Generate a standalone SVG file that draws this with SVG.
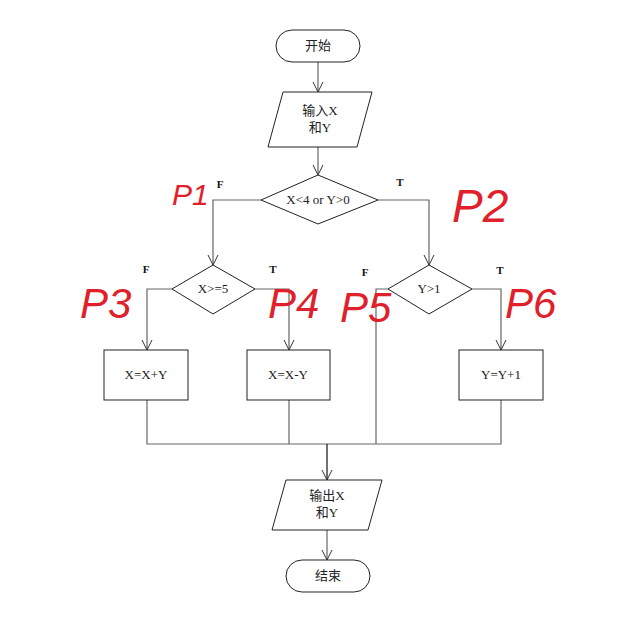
<svg xmlns="http://www.w3.org/2000/svg" width="621" height="630" viewBox="0 0 621 630">
<defs>
<marker id="ar" markerWidth="12" markerHeight="12" refX="11" refY="6" orient="auto" markerUnits="userSpaceOnUse" viewBox="0 0 12 12"><path d="M1,1 L11,6 L1,11" fill="none" stroke="#333" stroke-width="1"/></marker>
<style>
.s{fill:#fff;stroke:#222;stroke-width:1}
.c{fill:none;stroke:#666;stroke-width:1.2}
.t{font-family:"Liberation Serif","Noto Sans CJK SC",serif;font-size:13px;fill:#222;text-anchor:middle}
.b{font-family:"Liberation Serif",serif;font-size:11px;font-weight:bold;fill:#111;text-anchor:middle}
.r{font-family:"Liberation Sans",sans-serif;fill:#e0202a;font-weight:300;font-style:italic}
</style>
</defs>
<rect width="621" height="630" fill="#fff"/>
<g id="connectors">
<path class="c" d="M318,62 V92" marker-end="url(#ar)"/>
<path class="c" d="M318,147 V175" marker-end="url(#ar)"/>
<path class="c" d="M261,200 H213 V265" marker-end="url(#ar)"/>
<path class="c" d="M378,200 H429 V265" marker-end="url(#ar)"/>
<path class="c" d="M172,289 H147 V350" marker-end="url(#ar)"/>
<path class="c" d="M255,289 H289 V350" marker-end="url(#ar)"/>
<path class="c" d="M472,289 H501 V350" marker-end="url(#ar)"/>
<path class="c" d="M388,289 H376 V444"/>
<path class="c" d="M147,400 V444 H501 V400"/>
<path class="c" d="M289,400 V444"/>
<path d="M327,444 V480" fill="none" stroke="#111" stroke-width="1.2" marker-end="url(#ar)"/>
<path class="c" d="M327,530 V560" marker-end="url(#ar)"/>
</g>
<g id="start"><rect class="s" x="276" y="30" width="84" height="32" rx="16"/><text class="t" x="318" y="50">开始</text></g>
<g id="input"><polygon class="s" points="283,92 372,92 357,147 268,147"/><text class="t" x="320" y="115">输入X</text><text class="t" x="320" y="132">和Y</text></g>
<g id="d1"><polygon class="s" points="318,175 378,200 318,224 261,200"/><text class="t" x="318" y="204">X&lt;4 or Y&gt;0</text></g>
<g id="d2"><polygon class="s" points="213,265 255,289 213,314 172,289"/><text class="t" x="213" y="293">X&gt;=5</text></g>
<g id="d3"><polygon class="s" points="429,265 472,289 429,314 388,289"/><text class="t" x="429" y="293">Y&gt;1</text></g>
<g id="b1"><rect class="s" x="104" y="350" width="84" height="50"/><text class="t" x="146" y="379">X=X+Y</text></g>
<g id="b2"><rect class="s" x="247" y="350" width="83" height="50"/><text class="t" x="288" y="379">X=X-Y</text></g>
<g id="b3"><rect class="s" x="459" y="350" width="84" height="50"/><text class="t" x="501" y="379">Y=Y+1</text></g>
<g id="output"><polygon class="s" points="286,480 382,480 368,530 272,530"/><text class="t" x="327" y="500">输出X</text><text class="t" x="327" y="517">和Y</text></g>
<g id="end"><rect class="s" x="286" y="560" width="84" height="32" rx="16"/><text class="t" x="328" y="580">结束</text></g>
<g id="labels">
<text class="b" x="220" y="188">F</text><text class="b" x="400" y="186">T</text>
<text class="b" x="146" y="273">F</text><text class="b" x="273" y="273">T</text>
<text class="b" x="365" y="276">F</text><text class="b" x="500" y="274">T</text>
</g>
<g id="annotations">
<text class="r" x="172" y="205" font-size="30">P1</text>
<text class="r" x="452" y="222" font-size="46">P2</text>
<text class="r" x="80" y="318" font-size="42">P3</text>
<text class="r" x="268" y="318" font-size="42">P4</text>
<text class="r" x="340" y="322" font-size="42">P5</text>
<text class="r" x="505" y="318" font-size="42">P6</text>
</g>
</svg>
